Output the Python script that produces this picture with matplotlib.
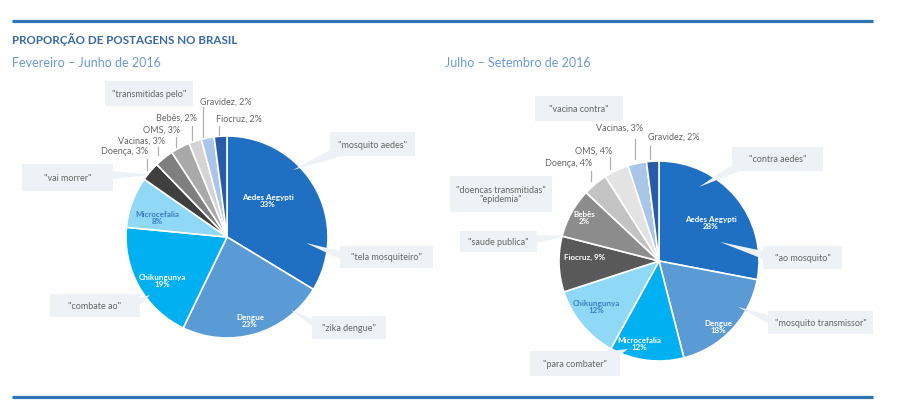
import matplotlib
matplotlib.use('Agg')
import matplotlib.pyplot as plt
from matplotlib.patches import Rectangle, Polygon

plt.rcParams['font.family'] = ['Lato', 'DejaVu Sans']

H = 410  # figure height in px, image coords are flipped with Y()


def Y(y):
    return H - y


# left pie: Fevereiro - Junho de 2016
left_names = ['Aedes Aegypti', 'Dengue', 'Chikungunya', 'Microcefalia', 'Doença',
              'Vacinas', 'OMS', 'Bebês', 'Gravidez', 'Fiocruz']
left_values = [33, 23, 19, 8, 3, 3, 3, 2, 2, 2]
left_colors = ['#1f6fc2', '#5b9bd5', '#00b0f0', '#8fd8f6', '#3f3f3f',
               '#7f7f7f', '#a9a9a9', '#d4d4d4', '#a9c5e8', '#2a5ba8']

# right pie: Julho - Setembro de 2016
right_names = ['Aedes Aegypti', 'Dengue', 'Microcefalia', 'Chikungunya', 'Fiocruz',
               'Bebês', 'Doença', 'OMS', 'Vacinas', 'Gravidez']
right_pct = [28, 18, 12, 12, 9, 2, 4, 4, 3, 2]          # as printed
right_values = [28, 18, 12, 12, 9, 8, 4, 4, 3, 2]       # as drawn (Bebês slice is ~8%)
right_colors = ['#1f6fc2', '#5b9bd5', '#00b0f0', '#8fd8f6', '#595959',
                '#8c8c8c', '#c3c3c3', '#e3e3e3', '#a9c5e8', '#2a5ba8']

left_quotes = ['"transmitidas pelo"', '"mosquito aedes"', '"vai morrer"',
               '"tela mosquiteiro"', '"combate ao"', '"zika dengue"']
right_quotes = ['"vacina contra"', '"contra aedes"', '"doencas transmitidas"\n"epidemia"',
                '"saude publica"', '"ao mosquito"', '"mosquito transmissor"', '"para combater"']

fig = plt.figure(figsize=(9, 4.1), dpi=100)
ax = fig.add_axes([0, 0, 1, 1])

blue_line = '#2e75b6'
box_col = '#eef1f6'
txt_grey = '#666666'

# pies
ax.pie(left_values, colors=left_colors, startangle=90, counterclock=False,
       center=(227, Y(238)), radius=101,
       wedgeprops=dict(edgecolor='white', linewidth=1.2))
ax.pie(right_values, colors=right_colors, startangle=90, counterclock=False,
       center=(659, Y(262)), radius=100,
       wedgeprops=dict(edgecolor='white', linewidth=1.2))

# header lines and titles
ax.plot([12, 873], [Y(22), Y(22)], color=blue_line, lw=2.3, solid_capstyle='butt')
ax.plot([12, 873], [Y(398), Y(398)], color=blue_line, lw=2.3, solid_capstyle='butt')
ax.text(12, Y(40), 'PROPORÇÃO DE POSTAGENS NO BRASIL', fontsize=8.4, fontweight='bold',
        color='#3a6aa3', va='center', ha='left')
ax.text(12, Y(63), 'Fevereiro – Junho de 2016', fontsize=9, color='#6b9bd1', va='center', ha='left')
ax.text(445, Y(63), 'Julho – Setembro de 2016', fontsize=9, color='#6b9bd1', va='center', ha='left')


def inside(x, y, s, color='white'):
    ax.text(x, Y(y), s, fontsize=5.8, fontweight='bold', color=color,
            ha='center', va='center', linespacing=1.0)


inside(268, 201, left_names[0] + '\n' + f'{left_values[0]}%')
inside(250, 321, left_names[1] + '\n' + f'{left_values[1]}%')
inside(162, 281, left_names[2] + '\n' + f'{left_values[2]}%')
inside(157, 218, left_names[3] + '\n' + f'{left_values[3]}%', color='#3d7fc0')

inside(711, 223, right_names[0] + '\n' + f'{right_pct[0]}%')
inside(718, 327, right_names[1] + '\n' + f'{right_pct[1]}%')
inside(639, 344, right_names[2] + '\n' + f'{right_pct[2]}%')
inside(596, 307, right_names[3] + '\n' + f'{right_pct[3]}%', color='#3d7fc0')
inside(585, 257, f'{right_names[4]}, {right_pct[4]}%')
inside(584, 218, right_names[5] + '\n' + f'{right_pct[5]}%')


def outside(x, y, s, lx, ly0, ly1, ha='right'):
    ax.text(x, Y(y), s, fontsize=6.5, color=txt_grey, ha=ha, va='center')
    ax.plot([lx, lx], [Y(ly0), Y(ly1)], color='#b0b0b0', lw=0.9)


outside(148, 152, f'{left_names[4]}, {left_values[4]}%', 147, 160, 171)
outside(165, 141, f'{left_names[5]}, {left_values[5]}%', 158, 148, 156)
outside(180, 130, f'{left_names[6]}, {left_values[6]}%', 176, 138, 148)
outside(197, 118, f'{left_names[7]}, {left_values[7]}%', 192, 127, 141)
outside(200, 102, f'{left_names[8]}, {left_values[8]}%', 203, 108, 138, ha='left')
outside(216, 119, f'{left_names[9]}, {left_values[9]}%', 219, 127, 136, ha='left')

outside(592, 164, f'{right_names[6]}, {right_pct[6]}%', 591, 172, 182)
outside(612, 151, f'{right_names[7]}, {right_pct[7]}%', 610, 158, 170)
outside(643, 128, f'{right_names[8]}, {right_pct[8]}%', 635, 140, 160)
outside(648, 137, f'{right_names[9]}, {right_pct[9]}%', 650, 147, 160, ha='left')


def callout(x0, y0, x1, y1, s, tip=None, base=None):
    ax.add_patch(Rectangle((x0, Y(y1)), x1 - x0, y1 - y0, facecolor=box_col,
                           edgecolor='none', zorder=3))
    if tip is not None:
        pts = [(base[0][0], Y(base[0][1])), (base[1][0], Y(base[1][1])), (tip[0], Y(tip[1]))]
        ax.add_patch(Polygon(pts, closed=True, facecolor=box_col, edgecolor='none', zorder=3))
    ax.text((x0 + x1) / 2, Y((y0 + y1) / 2), s, fontsize=6.5, color=txt_grey,
            ha='center', va='center', zorder=4, linespacing=1.1)


callout(105, 82, 193, 107, left_quotes[0])
callout(330, 133, 415, 157, left_quotes[1], tip=(293, 171), base=((332, 150), (342, 157)))
callout(22, 165, 113, 192, left_quotes[2], tip=(149, 176), base=((113, 172), (113, 180)))
callout(340, 247, 433, 269, left_quotes[3], tip=(306, 244), base=((340, 252), (340, 260)))
callout(50, 295, 140, 318, left_quotes[4], tip=(150, 296), base=((140, 299), (140, 306)))
callout(312, 317, 386, 340, left_quotes[5], tip=(291, 311), base=((312, 320), (312, 327)))

callout(535, 97, 623, 122, right_quotes[0])
callout(732, 148, 823, 172, right_quotes[1], tip=(699, 188), base=((732, 166), (740, 172)))
callout(450, 177, 552, 213, right_quotes[2])
callout(460, 232, 537, 253, right_quotes[3], tip=(566, 237), base=((537, 236), (537, 244)))
callout(763, 247, 842, 270, right_quotes[4], tip=(720, 243), base=((763, 252), (763, 260)))
callout(768, 312, 873, 335, right_quotes[5], tip=(738, 308), base=((768, 316), (768, 324)))
callout(530, 352, 620, 377, right_quotes[6], tip=(628, 350), base=((610, 352), (620, 356)))

ax.set_xlim(0, 900)
ax.set_ylim(0, H)
ax.set_aspect('equal')
ax.axis('off')

fig.savefig('out.png', dpi=100, facecolor='white')
